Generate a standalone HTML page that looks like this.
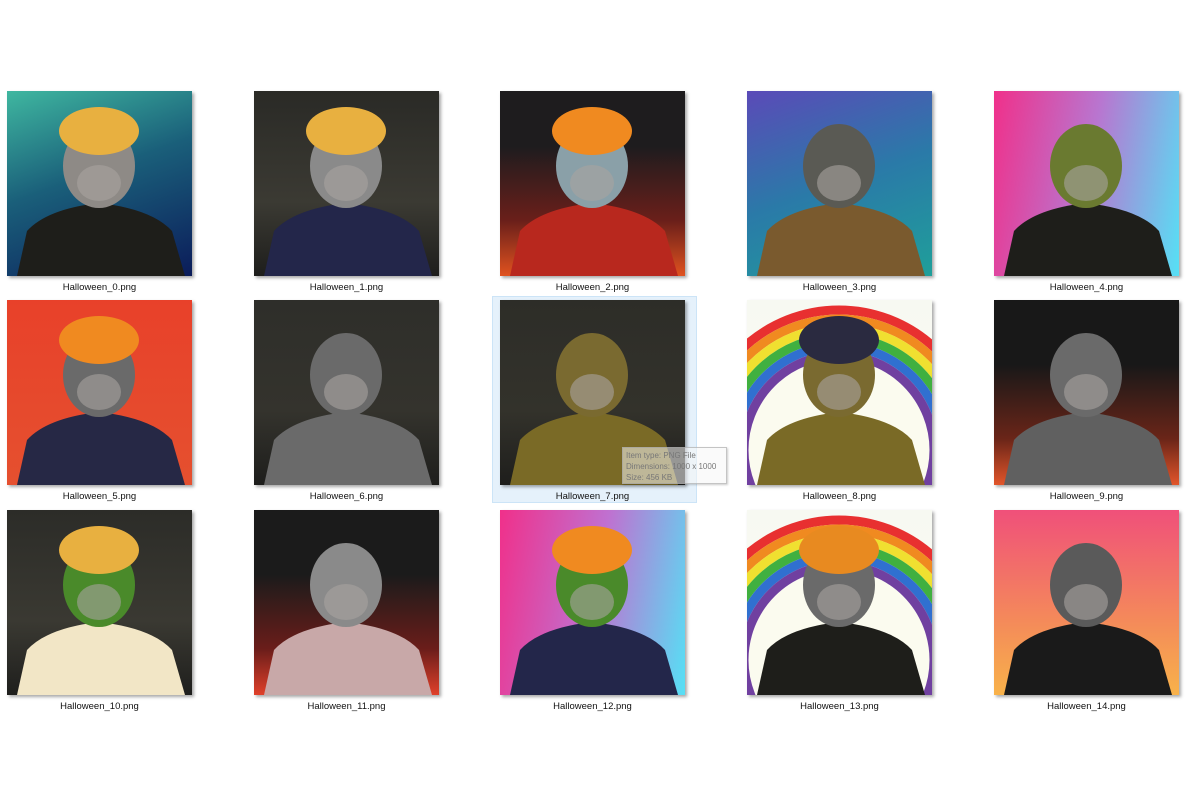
<!DOCTYPE html>
<html><head><meta charset="utf-8">
<style>
body{margin:0;width:1200px;height:800px;background:#fff;position:relative;overflow:hidden;font-family:"Liberation Sans",sans-serif;}
.tile{position:absolute;width:185px;height:185px;box-shadow:2px 2px 3px rgba(0,0,0,0.35);overflow:hidden;}
.tile svg{position:absolute;left:0;top:0;}
.lbl{position:absolute;width:185px;text-align:center;font-size:9.5px;color:#111;}
.sel{position:absolute;left:492px;top:296px;width:205px;height:207px;background:#e5f1fb;border:1px solid #cce4f7;box-sizing:border-box;}
.tip{position:absolute;left:622px;top:447px;width:105px;height:37px;background:rgba(245,245,245,0.55);border:1px solid rgba(160,160,160,0.6);font-size:8px;color:#777;padding:2px 3px;box-sizing:border-box;line-height:11px;box-shadow:1px 1px 2px rgba(0,0,0,0.2);}
</style></head><body>
<div class="sel"></div>
<div id="grid"></div>
<div class="tip">Item type: PNG File<br>Dimensions: 1000 x 1000<br>Size: 456 KB</div>
<script>
const names=[0,1,2,3,4,5,6,7,8,9,10,11,12,13,14];
const bgs=[
"linear-gradient(160deg,#3fb7a0,#1a5f7a 45%,#0b1c5a)",
"linear-gradient(#2a2a26,#3b3a33 60%,#1e1e1c)",
"linear-gradient(#1e1c1e 30%,#6a1f1a 70%,#e0521f)",
"linear-gradient(160deg,#5b4ab8,#2a7aa8 50%,#1f9f9a)",
"linear-gradient(100deg,#f0308a,#b876d0 50%,#56e0f5)",
"linear-gradient(#e8412a,#e5502f)",
"linear-gradient(#2e2e2a,#34332d 60%,#1e1e1c)",
"linear-gradient(#2d2d28,#33322b 60%,#1e1e1c)",
"linear-gradient(#f7f9f2,#fbfbef)",
"linear-gradient(#181818 35%,#6a2518 75%,#e2552a)",
"linear-gradient(#2c2c28,#3a3932 60%,#1f1f1d)",
"linear-gradient(#1b1b1b 35%,#6a1d1a 75%,#e0402a)",
"linear-gradient(100deg,#f0308a,#c070d0 50%,#56e0f5)",
"linear-gradient(#f7f9f2,#fbfbef)",
"linear-gradient(#f0507a,#f48a5a 60%,#f8b24a)"];
const bodyC=["#1e1e1a","#23264a","#b8281e","#7a5a2e","#1e1e1a","#262845","#6a6a6a","#7a6a26","#7a6a26","#606060","#f2e6c6","#c8a8a8","#23264a","#1e1e1a","#1a1a1a"];
const headC=["#8e8a86","#8a8a8a","#8aa0a8","#5a5a54","#6a7a30","#6a6a6a","#6a6a6a","#7a6a30","#7a6a30","#6a6a6a","#4a8a2a","#8a8a8a","#4a8a2a","#6a6a6a","#5a5a5a"];
const hatC=["#e8b040","#e8b040","#f08a20",null,null,"#f08a20",null,null,"#2a2a40",null,"#e8b040",null,"#f08a20","#e88a20",null];
const rainbow=[8,13];
const xs=[7,254,500,747,994], ys=[91,300,510];
const grid=document.getElementById('grid');
names.forEach((n,i)=>{
  const x=xs[i%5], y=ys[Math.floor(i/5)];
  const t=document.createElement('div');
  t.className='tile';
  
  
  t.style.left=x+'px';t.style.top=y+'px';t.style.background=bgs[i];
  let s='<svg width="185" height="185">';
  if(rainbow.includes(i)){
    const rc=['#e83030','#f08a20','#f0e030','#40b040','#3070d0','#7040a0'];
    rc.forEach((c,k)=>{s+=`<circle cx="92" cy="150" r="${140-k*9}" fill="none" stroke="${c}" stroke-width="9"/>`;});
    s+='<circle cx="92" cy="150" r="90" fill="#fbfbef"/>';
  }
  s+=`<path d="M10 185 L20 140 Q40 118 92 112 Q145 118 165 140 L178 185Z" fill="${bodyC[i]}"/>`;
  s+=`<ellipse cx="92" cy="75" rx="36" ry="42" fill="${headC[i]}"/>`;
  s+=`<ellipse cx="92" cy="92" rx="22" ry="18" fill="#a8a4a0" opacity="0.6"/>`;
  if(hatC[i]) s+=`<ellipse cx="92" cy="40" rx="40" ry="24" fill="${hatC[i]}"/>`;
  s+='</svg>';
  t.innerHTML=s;
  grid.appendChild(t);
  const l=document.createElement('div');
  l.className='lbl';
  
  
  l.style.left=x+'px';l.style.top=(y+191)+'px';
  l.textContent='Halloween_'+n+'.png';
  grid.appendChild(l);
});
</script>
</body></html>
